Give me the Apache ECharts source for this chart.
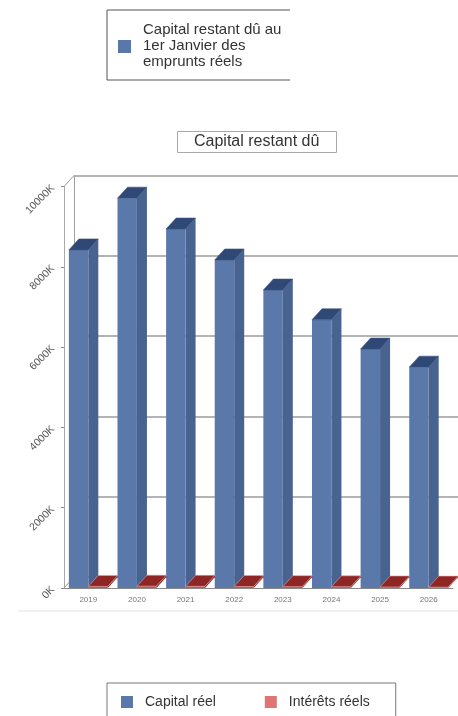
<!DOCTYPE html>
<html>
<head>
<meta charset="utf-8">
<script src="https://cdn.jsdelivr.net/npm/echarts@6/dist/echarts.min.js"></script>
<style>
  html, body { margin: 0; padding: 0; background: #fff; }
  #chart { width: 458px; height: 716px; }
</style>
</head>
<body>
<div id="chart"></div>
<script>
// Années (axe des catégories)
const years = ['2019', '2020', '2021', '2022', '2023', '2024', '2025', '2026'];
// Capital restant dû au 1er janvier, en milliers d'euros
const capitalReel = [8420, 9710, 8940, 8170, 7420, 6680, 5950, 5500];
// Intérêts réels, en milliers d'euros
const interetsReels = [40, 46, 42, 38, 34, 30, 26, 22];
// Graduations de l'axe des valeurs
const yMin = 0;
const yMax = 10000;
const yStep = 2000;

const FONT = '"Liberation Sans", Arial, sans-serif';
// Décalage de profondeur de la vue en perspective
const DX = 10, DY = -11;
const FRONT = { left: 64, top: 186.5, width: 389, height: 401.5 };

// Pavé 3D : face avant, flanc droit et dessus
function boxRenderer(side, colors) {
  return function (params, api) {
    const i = api.value(0);
    const v = api.value(1);
    const base = api.coord([i, 0]);
    const top = api.coord([i, v]);
    const w = api.size([1, 0])[0] * 0.4;
    const x0 = side < 0 ? base[0] - w : base[0];
    const x1 = x0 + w;
    const y0 = base[1];
    const yt = top[1];
    return {
      type: 'group',
      children: [
        {
          type: 'polygon',
          shape: { points: [[x1, yt], [x1 + DX, yt + DY], [x1 + DX, y0 + DY], [x1, y0]] },
          style: { fill: colors.side }
        },
        {
          type: 'rect',
          shape: { x: x0, y: yt, width: w, height: y0 - yt },
          style: { fill: colors.front }
        },
        {
          type: 'polygon',
          shape: { points: [[x0, yt], [x0 + DX, yt + DY], [x1 + DX, yt + DY], [x1, yt]] },
          style: { fill: colors.top, stroke: colors.edge, lineWidth: 0.6 }
        }
      ]
    };
  };
}

// Arêtes reliant le plan avant au mur du fond
function wallEdges(params, api) {
  const cs = params.coordSys;
  const xl = cs.x, yt = cs.y, yb = cs.y + cs.height;
  const st = { stroke: '#9a9a9a', lineWidth: 1 };
  return {
    type: 'group',
    children: [
      { type: 'line', shape: { x1: xl, y1: yt, x2: xl + DX, y2: yt + DY }, style: st },
      { type: 'line', shape: { x1: xl, y1: yb, x2: xl + DX, y2: yb + DY }, style: st }
    ]
  };
}

const chart = echarts.init(document.getElementById('chart'), null, { renderer: 'canvas' });

chart.setOption({
  backgroundColor: '#ffffff',
  animation: false,
  title: {
    text: 'Capital restant dû',
    left: 177,
    top: 131,
    padding: [3, 17],
    borderColor: '#a8a8a8',
    borderWidth: 1,
    textStyle: { fontFamily: FONT, fontSize: 16, fontWeight: 'normal', color: '#333' }
  },
  legend: {
    data: ['Capital réel', 'Intérêts réels'],
    left: 107,
    top: 683,
    padding: [12, 26, 12, 14],
    borderColor: '#777',
    borderWidth: 1,
    icon: 'rect',
    itemWidth: 12,
    itemHeight: 12,
    itemGap: 49,
    selectedMode: false,
    textStyle: { fontFamily: FONT, fontSize: 14, color: '#333', padding: [0, 0, 0, 7] }
  },
  graphic: [
    { type: 'polyline', shape: { points: [[290, 10], [107, 10], [107, 80], [290, 80]] },
      style: { stroke: '#555', fill: null, lineWidth: 1 } },
    { type: 'rect', shape: { x: 118, y: 40, width: 13, height: 13 }, style: { fill: '#5a77aa' } },
    { type: 'text', x: 143, y: 22,
      style: { text: 'Capital restant dû au\n1er Janvier des\nemprunts réels', font: '15px ' + FONT,
               fill: '#333', lineHeight: 16 } },
    { type: 'line', shape: { x1: 18, y1: 611, x2: 458, y2: 611 }, style: { stroke: '#e2e2e2', lineWidth: 1 } }
  ],
  grid: [
    Object.assign({}, FRONT, { containLabel: false }),
    { left: FRONT.left + DX, top: FRONT.top + DY, width: FRONT.width, height: FRONT.height }
  ],
  xAxis: [
    {
      type: 'category', gridIndex: 0, data: years,
      axisLine: { show: true, lineStyle: { color: '#8a8a8a' } },
      axisTick: { show: false },
      axisLabel: { fontFamily: FONT, fontSize: 8, color: '#777', margin: 8 }
    },
    {
      type: 'category', gridIndex: 1, data: years,
      axisLine: { show: true, lineStyle: { color: '#b0b0b0', width: 1 } },
      axisTick: { show: false }, axisLabel: { show: false }
    }
  ],
  yAxis: [
    {
      type: 'value', gridIndex: 0, min: yMin, max: yMax, interval: yStep,
      axisLine: { show: true, lineStyle: { color: '#a9a9a9' } },
      axisTick: { show: true, length: 3, lineStyle: { color: '#888' } },
      splitLine: { show: false },
      axisLabel: {
        rotate: 45, margin: 11, fontFamily: FONT, fontSize: 10.5, color: '#555',
        formatter: function (v) { return v + 'K'; }
      }
    },
    {
      type: 'value', gridIndex: 1, min: yMin, max: yMax, interval: yStep,
      axisLine: { show: true, lineStyle: { color: '#a0a0a0' } },
      axisTick: { show: false }, axisLabel: { show: false },
      splitLine: { show: true, lineStyle: { color: '#b4b4b4', width: 2 } }
    }
  ],
  series: [
    {
      name: 'edges', type: 'custom', xAxisIndex: 0, yAxisIndex: 0,
      data: [[0, 0]], renderItem: wallEdges, silent: true
    },
    {
      name: 'Capital réel', type: 'custom', xAxisIndex: 0, yAxisIndex: 0,
      itemStyle: { color: '#5a77aa' },
      encode: { x: 0, y: 1 },
      data: capitalReel.map(function (v, i) { return [i, v]; }),
      renderItem: boxRenderer(-1, { front: '#5b78ab', side: '#48638f', top: '#2f4875', edge: '#3a5582' })
    },
    {
      name: 'Intérêts réels', type: 'custom', xAxisIndex: 0, yAxisIndex: 0,
      itemStyle: { color: '#e07474' },
      encode: { x: 0, y: 1 },
      data: interetsReels.map(function (v, i) { return [i, v]; }),
      renderItem: boxRenderer(1, { front: '#c25454', side: '#7a1e1e', top: '#8e2626', edge: '#e6a0a0' })
    }
  ]
});
</script>
</body>
</html>
